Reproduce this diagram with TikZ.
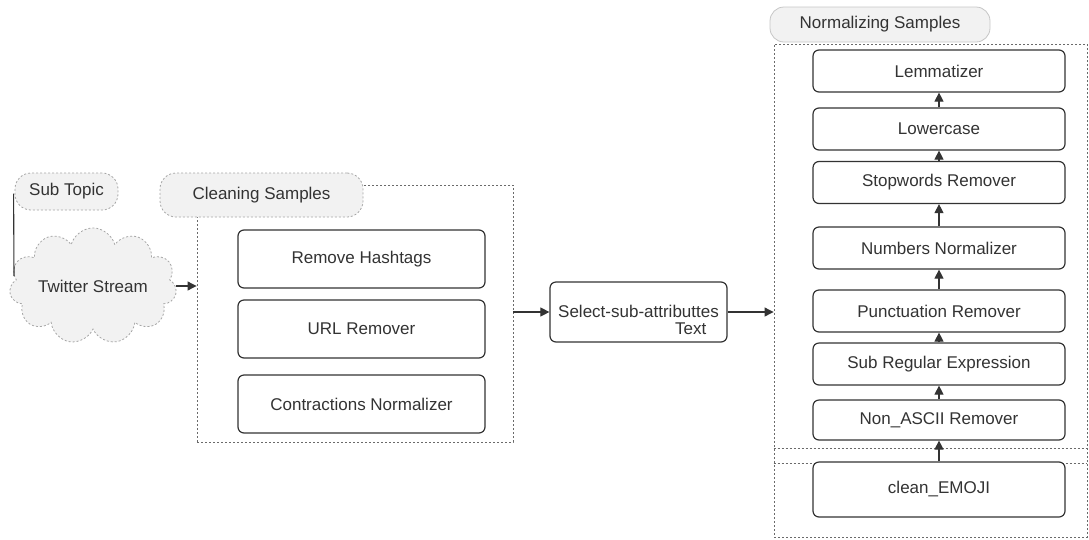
\documentclass[tikz,border=0pt]{standalone}
\usepackage{fontspec}
\setmainfont{Liberation Sans}
\usetikzlibrary{shapes.symbols,arrows.meta}
\definecolor{ink}{HTML}{333333}
\definecolor{frame}{HTML}{6A6A6A}
\definecolor{puff}{HTML}{F2F2F2}
\tikzset{
  every node/.style={font=\fontsize{17}{19}\selectfont, text=ink},
  stepbox/.style={draw=ink, line width=1.2pt, rounded corners=6pt, fill=white},
  group/.style={draw=frame, line width=0.9pt, dash pattern=on 2pt off 2pt, rectangle, inner sep=0pt},
  tag/.style={draw=gray!70, line width=0.8pt, dash pattern=on 2pt off 2pt, fill=puff, rounded corners=16pt, inner sep=0pt},
  link/.style={draw=ink, line width=1.1pt, -{Triangle[length=9pt,width=9pt]}},
  plain/.style={draw=ink, line width=1.1pt}
}
\begin{document}
\begin{tikzpicture}[x=1pt,y=-1pt]
\useasboundingbox (0,0) rectangle (1089,539);

% source of the stream
\node[tag, minimum width=103, minimum height=37] (sub) at (66.5,191.5) {Sub Topic};
\node[cloud, cloud puffs=11, aspect=1.8, draw=gray!70, dash pattern=on 2pt off 2pt,
      line width=0.8pt, fill=puff, minimum width=148, minimum height=86, inner sep=0pt]
      (tw) at (93,286) {Twitter Stream};
\coordinate (subend) at (14,276);
\draw[plain] (sub.west) ++(-1,2) -- (subend);

% cleaning stage
\node[group, minimum width=316, minimum height=257] (clean) at (355,313.5) {};
\node[tag, minimum width=203, minimum height=44] (cleantag) at (261.5,195) {Cleaning Samples};
\node[stepbox, minimum width=247, minimum height=58] (hash) at (361.5,259) {Remove Hashtags};
\node[stepbox, minimum width=247, minimum height=58] (url) at (361.5,329) {URL Remover};
\node[stepbox, minimum width=247, minimum height=58] (contr) at (361.5,404) {Contractions Normalizer};

% attribute selection
\node[stepbox, minimum width=177, minimum height=60] (sel) at (638.5,312) {};
\node[align=left, inner sep=0pt] (seltext) at (638.5,320)
  {Select-sub-attributtes\\[-2pt]\hspace*{117pt}Text};

% normalizing stage
\node[group, minimum width=313, minimum height=493] (norm) at (930.5,290.5) {};
\node[draw=gray!45, line width=0.8pt, fill=puff, rounded corners=14pt, inner sep=0pt,
      minimum width=220, minimum height=35] (normtag) at (880,24.5) {Normalizing Samples};
\draw[group] (norm.west |- 0,448) -- (norm.east |- 0,448);
\draw[group] (norm.west |- 0,463) -- (norm.east |- 0,463);

\node[stepbox, minimum width=252, minimum height=42] (lem) at (939,71) {Lemmatizer};
\node[stepbox, minimum width=252, minimum height=42] (low) at (939,129) {Lowercase};
\node[stepbox, minimum width=252, minimum height=42] (stop) at (939,182.5) {Stopwords Remover};
\node[stepbox, minimum width=252, minimum height=42] (num) at (939,248) {Numbers Normalizer};
\node[stepbox, minimum width=252, minimum height=42] (punc) at (939,311) {Punctuation Remover};
\node[stepbox, minimum width=252, minimum height=42] (regex) at (939,364) {Sub Regular Expression};
\node[stepbox, minimum width=252, minimum height=40] (ascii) at (939,420) {Non\_ASCII Remover};
\node[stepbox, minimum width=252, minimum height=55] (emoji) at (939,489.5) {clean\_EMOJI};

% connectors
\draw[link] (tw.east) -- (clean.west |- tw.east);
\draw[link] (clean.east |- sel.west) -- (sel.west);
\draw[link] (sel.east) -- (norm.west |- sel.east);
\draw[link] (emoji.north) -- (ascii.south);
\draw[link] (ascii.north) -- (regex.south);
\draw[link] (regex.north) -- (punc.south);
\draw[link] (punc.north) -- (num.south);
\draw[link] (num.north) -- (stop.south);
\draw[link] (stop.north) -- (low.south);
\draw[link] (low.north) -- (lem.south);
\end{tikzpicture}
\end{document}
